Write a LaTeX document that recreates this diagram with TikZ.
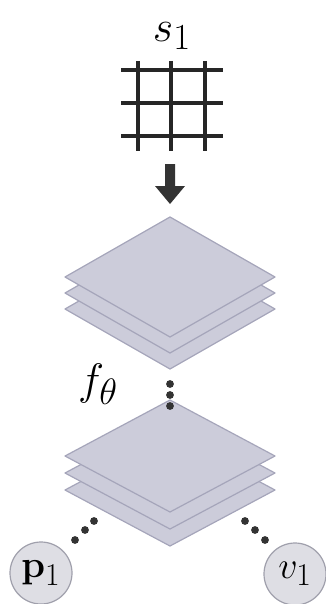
\documentclass[tikz,border=0pt]{standalone}
\usepackage{amsmath}
\usepackage{graphicx}
\begin{document}
\begin{tikzpicture}[x=1pt,y=-1pt,
  plate/.style={fill=platefill,draw=plateedge,line width=1.2pt,line join=round},
  gridline/.style={draw=black!85,line width=3.1pt},
  dotmark/.style={fill=black!80,draw=none},
  ball/.style={circle,fill=ballfill,draw=balledge,line width=1.2pt,minimum size=62pt,inner sep=0pt},
  bigmath/.style={inner sep=0pt}
]
\definecolor{platefill}{RGB}{204,204,218}
\definecolor{plateedge}{RGB}{165,165,186}
\definecolor{ballfill}{RGB}{222,222,228}
\definecolor{balledge}{RGB}{160,160,172}
\useasboundingbox (0,0) rectangle (326,604);
% label s_1
\node[bigmath] (s) at (172,36) {\scalebox{1.77}{\Huge$s_1$}};
% grid
\foreach \y in {70,103,136} \draw[gridline] (121,\y) -- (223,\y);
\foreach \x in {138,171,205} \draw[gridline] (\x,61) -- (\x,151);
% arrow
\fill[black!80] (165,164) -- (175,164) -- (175,186) -- (185,186) -- (170,204) -- (155,186) -- (165,186) -- cycle;
% upper stack
\foreach \o in {32,16,0}{
  \draw[plate] (65,277+\o) -- (170,217+\o) -- (275,277+\o) -- (170,337+\o) -- cycle;
}
% lower stack
\foreach \o in {34,17,0}{
  \draw[plate] (65,456+\o) -- (170,400+\o) -- (275,456+\o) -- (170,512+\o) -- cycle;
}
% f_theta
\node[bigmath] (f) at (98,384) {\scalebox{1.77}{\Huge$f_\theta$}};
% middle dots
\foreach \y in {384,395,406} \fill[dotmark] (170,\y) circle (3.9pt);
% balls
\node[ball] (p) at (41,573) {\scalebox{1.53}{\Huge$\mathbf{p}_1$}};
\node[ball] (v) at (295,574) {\scalebox{1.53}{\Huge$v_1$}};
% diagonal dots
\fill[dotmark] (94,521) circle (3.9pt);
\fill[dotmark] (85,530) circle (3.9pt);
\fill[dotmark] (75,540) circle (3.9pt);
\fill[dotmark] (245,521) circle (3.9pt);
\fill[dotmark] (255,530) circle (3.9pt);
\fill[dotmark] (265,540) circle (3.9pt);
\end{tikzpicture}
\end{document}
